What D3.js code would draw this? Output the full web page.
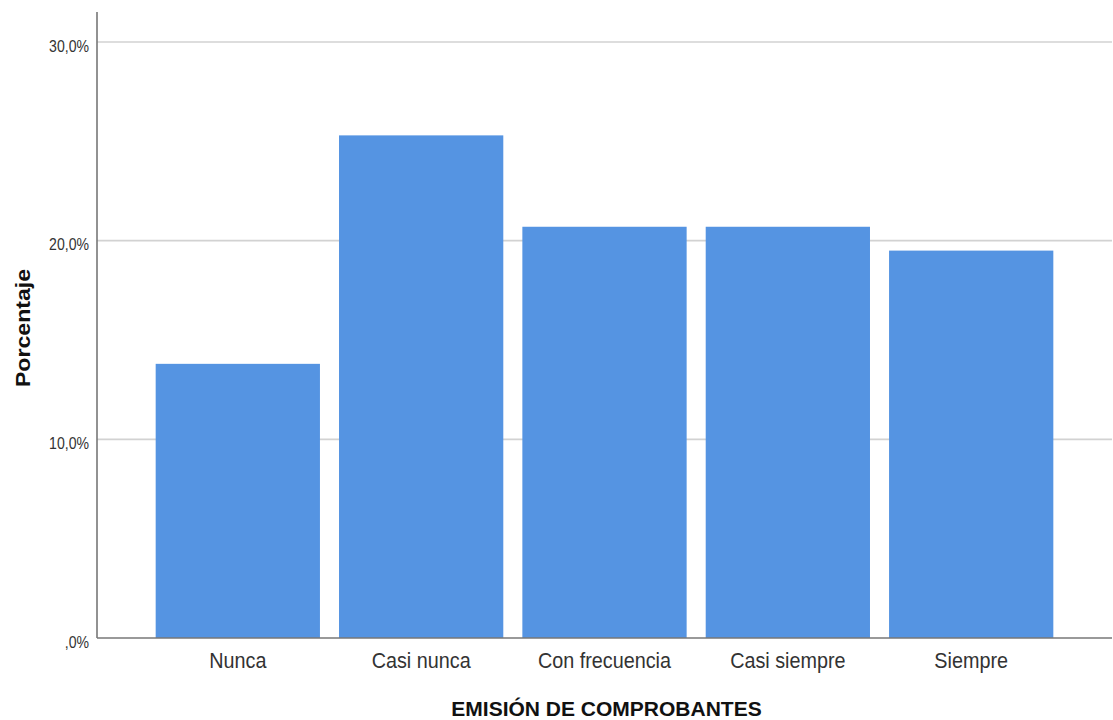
<!DOCTYPE html>
<html>
<head>
<meta charset="utf-8">
<script src="https://cdn.jsdelivr.net/npm/d3@7/dist/d3.min.js"></script>
<style>
  html, body { margin: 0; padding: 0; background: #ffffff; }
  svg { display: block; }
  text { font-family: "Liberation Sans", Arial, sans-serif; }
</style>
</head>
<body>
<svg id="chart" width="1113" height="720"></svg>
<script>
const categories = ["Nunca", "Casi nunca", "Con frecuencia", "Casi siempre", "Siempre"];
const percentages = [13.8, 25.3, 20.7, 20.7, 19.5];
const yTicks = [0, 10, 20, 30];
const yTickLabels = [",0%", "10,0%", "20,0%", "30,0%"];
const xTitle = "EMISIÓN DE COMPROBANTES";
const yTitle = "Porcentaje";

const svg = d3.select("#chart");
const left = 97, right = 1112, bottom = 638, topAxis = 12;

const y = d3.scaleLinear().domain([0, 30]).range([bottom, 42]);
const x = d3.scaleBand().domain(categories).range([left, right])
  .paddingInner(0.104).paddingOuter(0.32);

// gridlines
svg.append("g").selectAll("line").data(yTicks.filter(d => d > 0)).join("line")
  .attr("x1", left).attr("x2", right)
  .attr("y1", d => y(d)).attr("y2", d => y(d))
  .attr("stroke", "#d2d2d2").attr("stroke-width", 1.6);

// bars
svg.append("g").selectAll("rect").data(categories).join("rect")
  .attr("x", d => x(d))
  .attr("width", x.bandwidth())
  .attr("y", (d, i) => y(percentages[i]))
  .attr("height", (d, i) => y(0) - y(percentages[i]))
  .attr("fill", "#5594e2");

// y axis
const yAxis = d3.axisLeft(y).tickValues(yTicks)
  .tickFormat((d, i) => yTickLabels[i]).tickSize(0).tickPadding(0);
const gy = svg.append("g").attr("transform", `translate(${left},0)`).call(yAxis);
gy.select(".domain").remove();
gy.selectAll(".tick text")
  .attr("font-size", 16)
  .attr("fill", "#333")
  .attr("dy", "0.32em")
  .attr("x", 0).attr("y", 4)
  .attr("transform", "translate(-8,0) scale(0.88,1)");

// x axis
const xAxis = d3.axisBottom(x).tickSize(0).tickPadding(0);
const gx = svg.append("g").attr("transform", `translate(0,${bottom})`).call(xAxis);
gx.select(".domain").remove();
gx.selectAll(".tick text")
  .attr("font-size", 22)
  .attr("fill", "#333")
  .attr("dy", 0)
  .attr("y", 30)
  .attr("transform", "scale(0.9,1)");

// axis lines
svg.append("line").attr("x1", left).attr("x2", left)
  .attr("y1", topAxis).attr("y2", bottom)
  .attr("stroke", "#777").attr("stroke-width", 1.6);
svg.append("line").attr("x1", left).attr("x2", right)
  .attr("y1", bottom).attr("y2", bottom)
  .attr("stroke", "#777").attr("stroke-width", 1.6);

// titles
svg.append("text")
  .attr("x", (left + right) / 2 + 2).attr("y", 716)
  .attr("text-anchor", "middle")
  .attr("font-size", 21).attr("font-weight", "bold").attr("fill", "#111")
  .text(xTitle);

svg.append("text")
  .attr("transform", "translate(30,328) rotate(-90) scale(1.1,1)")
  .attr("text-anchor", "middle")
  .attr("font-size", 21).attr("font-weight", "bold").attr("fill", "#111")
  .text(yTitle);
</script>
</body>
</html>
